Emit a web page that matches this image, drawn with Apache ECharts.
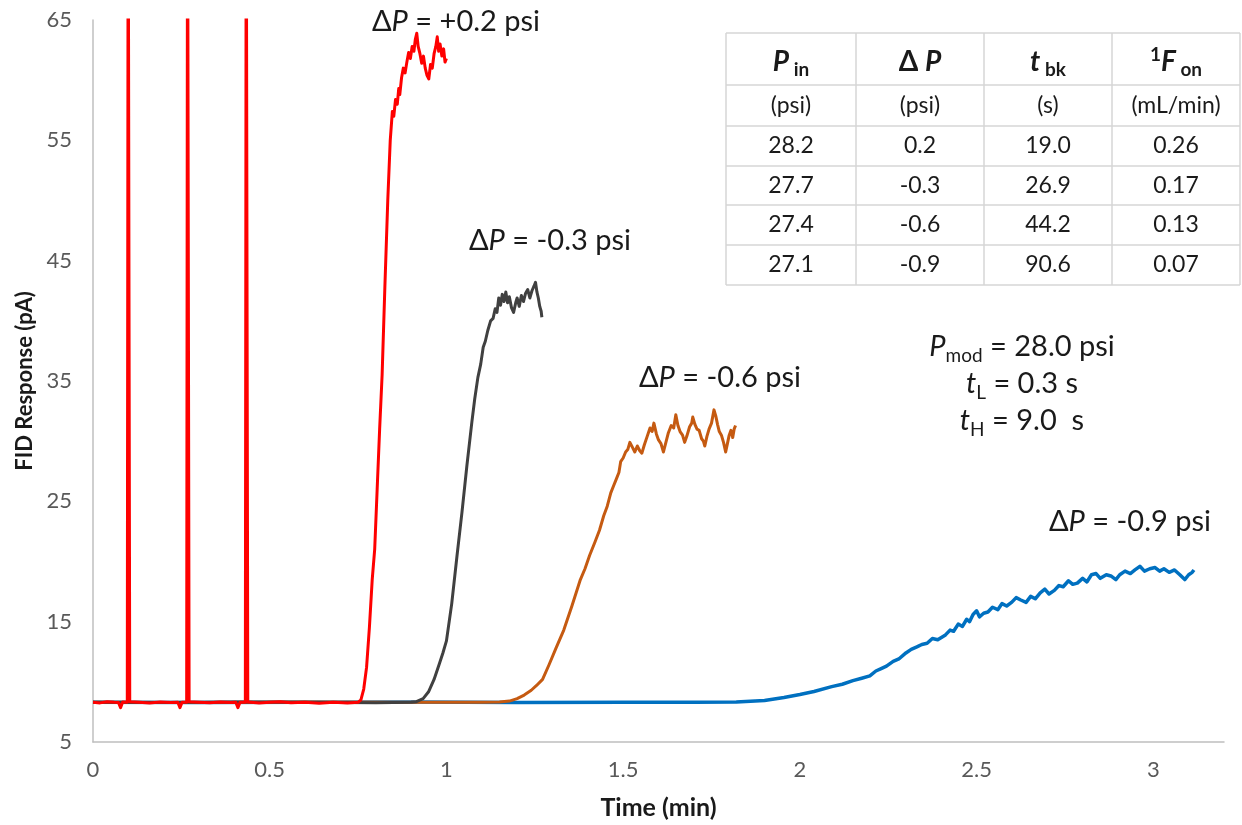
<!DOCTYPE html>
<html><head><meta charset="utf-8">
<script src="https://cdn.jsdelivr.net/npm/echarts@6/dist/echarts.min.js"></script>
<style>html,body{margin:0;padding:0;background:#fff}#c{width:1242px;height:825px}</style>
</head><body><div id="c"></div>
<script>
// ---------- data ----------
const xTicks = [0, 0.5, 1, 1.5, 2, 2.5, 3];
const yTicks = [5, 15, 25, 35, 45, 55, 65];

// ΔP = +0.2 psi (red) — baseline with three valve spikes, then breakthrough
const redData = [[0,8.3],[0.02,8.25],[0.04,8.35],[0.06,8.3],[0.072,8.28],[0.078,7.85],[0.084,8.32],[0.097,8.3],[0.0995,80],[0.1015,80],[0.104,8.35],
[0.13,8.3],[0.16,8.25],[0.19,8.32],[0.22,8.28],[0.24,8.3],[0.246,7.85],[0.252,8.3],[0.265,8.3],[0.2675,80],[0.2695,80],[0.272,8.35],
[0.3,8.3],[0.33,8.26],[0.36,8.33],[0.39,8.28],[0.404,8.3],[0.41,7.85],[0.416,8.3],[0.431,8.3],[0.4335,80],[0.4355,80],[0.438,8.32],
[0.47,8.25],[0.5,8.3],[0.53,8.35],[0.56,8.27],[0.6,8.3],[0.64,8.22],[0.68,8.3],[0.72,8.25],[0.75,8.3],[0.758,8.5],[0.766,9.4],[0.774,11.2],
[0.782,14.5],[0.79,18.5],[0.797,21],[0.804,26],[0.811,31],[0.818,35.5],[0.826,43],[0.834,50],[0.841,55],[0.847,57.4],[0.851,57.0],[0.856,58.4],
[0.861,58.0],[0.865,59.3],[0.868,58.8],[0.873,60.2],[0.878,61.0],[0.883,60.6],[0.888,61.5],[0.893,62.3],[0.898,61.8],[0.903,62.8],[0.908,62.4],[0.912,63.4],
[0.916,63.9],[0.92,62.8],[0.925,62.2],[0.93,61.4],[0.935,62.0],[0.94,61.0],[0.945,60.4],[0.95,60.1],[0.955,61.3],[0.96,61.0],[0.965,62.2],
[0.97,62.8],[0.974,63.6],[0.978,62.4],[0.982,63.0],[0.987,62.0],[0.992,62.6],[0.996,61.5],[1.0,61.8]];

// ΔP = -0.3 psi (dark grey)
const blackData = [[0,8.3],[0.2,8.28],[0.4,8.32],[0.6,8.3],[0.8,8.27],[0.9,8.3],[0.915,8.35],[0.934,8.6],[0.95,9.2],[0.965,10.2],[0.98,11.5],
[0.99,12.4],[1.0,13.4],[1.015,16.5],[1.03,20.5],[1.044,24.1],[1.058,28],[1.072,31.6],[1.08,33.5],[1.089,35.3],[1.097,36.4],[1.104,37.8],
[1.11,38.3],[1.117,39.2],[1.125,40.0],[1.132,40.2],[1.138,41.0],[1.143,40.7],[1.148,41.9],[1.153,41.3],[1.158,42.2],[1.163,41.6],[1.168,42.4],
[1.173,41.5],[1.178,42.0],[1.184,41.1],[1.19,40.7],[1.196,41.5],[1.2,41.9],[1.206,41.2],[1.212,42.1],[1.218,41.6],[1.224,42.3],[1.23,42.6],
[1.236,41.9],[1.242,42.5],[1.248,42.9],[1.252,43.2],[1.256,42.4],[1.26,41.9],[1.264,41.2],[1.268,40.8],[1.27,40.3]];

// ΔP = -0.6 psi (orange)
const orangeData = [[0,8.3],[0.3,8.28],[0.6,8.32],[0.9,8.3],[1.1,8.3],[1.15,8.32],[1.178,8.4],[1.2,8.6],[1.22,8.9],[1.24,9.3],[1.255,9.7],
[1.272,10.2],[1.29,11.4],[1.31,12.8],[1.332,14.3],[1.355,16.3],[1.379,18.5],[1.392,19.4],[1.405,20.5],[1.42,21.6],[1.433,22.6],[1.445,23.8],
[1.455,24.6],[1.465,25.7],[1.473,26.3],[1.48,26.8],[1.488,27.4],[1.493,28.3],[1.5,28.6],[1.507,29.1],[1.513,29.3],[1.519,29.9],[1.526,29.5],
[1.533,29.1],[1.54,29.6],[1.547,29.2],[1.553,29.0],[1.56,29.7],[1.568,30.4],[1.576,31.1],[1.582,30.8],[1.587,31.5],[1.594,30.6],[1.6,30.1],
[1.607,29.8],[1.614,29.1],[1.62,29.8],[1.628,30.7],[1.636,31.3],[1.643,31.1],[1.649,32.2],[1.655,31.3],[1.661,30.8],[1.668,30.5],[1.674,29.9],
[1.68,30.4],[1.688,31.2],[1.694,31.5],[1.697,32.0],[1.703,31.4],[1.709,31.0],[1.715,30.9],[1.722,30.2],[1.727,30.0],[1.731,29.6],[1.737,30.4],
[1.743,31.0],[1.75,31.5],[1.757,32.6],[1.762,32.1],[1.767,31.4],[1.772,30.8],[1.778,30.5],[1.784,29.9],[1.79,29.1],[1.795,29.8],[1.8,30.5],
[1.805,30.9],[1.81,30.3],[1.814,31.0],[1.818,31.3]];

// ΔP = -0.9 psi (blue)
const blueData = [[0,8.3],[0.3,8.28],[0.6,8.3],[0.9,8.32],[1.2,8.28],[1.5,8.3],[1.7,8.3],[1.82,8.32],[1.9,8.45],[1.955,8.7],[2.0,8.95],
[2.04,9.2],[2.09,9.6],[2.12,9.8],[2.15,10.1],[2.175,10.3],[2.198,10.5],[2.215,10.9],[2.23,11.1],[2.245,11.3],[2.264,11.7],[2.28,11.9],
[2.3,12.4],[2.315,12.7],[2.331,12.9],[2.345,13.1],[2.36,13.2],[2.375,13.6],[2.39,13.5],[2.412,13.9],[2.425,14.3],[2.435,14.2],[2.448,14.8],
[2.46,14.6],[2.472,15.2],[2.48,15.0],[2.49,15.6],[2.5,15.9],[2.508,15.4],[2.52,15.7],[2.532,15.8],[2.545,16.2],[2.56,16.0],[2.572,16.5],
[2.585,16.3],[2.599,16.6],[2.612,17.0],[2.625,16.8],[2.64,16.6],[2.653,17.1],[2.666,16.9],[2.68,17.4],[2.693,17.7],[2.705,17.3],[2.72,17.6],
[2.733,18.0],[2.745,17.9],[2.76,18.4],[2.772,18.1],[2.785,18.2],[2.8,18.6],[2.812,18.3],[2.825,18.9],[2.838,19.0],[2.85,18.6],[2.867,18.9],
[2.88,18.8],[2.894,18.5],[2.905,18.9],[2.92,19.2],[2.935,19.0],[2.948,19.3],[2.962,19.6],[2.975,19.2],[2.99,19.4],[3.005,19.5],[3.018,19.2],
[3.03,19.4],[3.045,19.1],[3.06,19.3],[3.075,18.9],[3.089,18.5],[3.1,18.9],[3.11,19.1],[3.115,19.3]];

const curveLabels = ['+0.2', '-0.3', '-0.6', '-0.9'];

// table
const tableUnits = ['(psi)', '(psi)', '(s)', '(mL/min)'];
const tablePin = ['28.2', '27.7', '27.4', '27.1'];
const tableDP = ['0.2', '-0.3', '-0.6', '-0.9'];
const tableTbk = ['19.0', '26.9', '44.2', '90.6'];
const tableFon = ['0.26', '0.17', '0.13', '0.07'];

// conditions
const condPmod = '28.0';
const condTL = '0.3';
const condTH = '9.0';

// ---------- layout / style ----------
const FONT = 'Lato, "Open Sans", sans-serif';
const TXT = '#1a1a1a';
const colX = [726, 856, 984, 1112, 1240];
const rowY = [33, 85, 126, 166, 205, 245, 285];

const chart = echarts.init(document.getElementById('c'), null, {renderer: 'canvas'});

const graphics = [];
colX.forEach(x => graphics.push({type: 'line', silent: true, shape: {x1: x, y1: rowY[0], x2: x, y2: rowY[rowY.length - 1]}, style: {stroke: '#D6D6D6', lineWidth: 1.5}}));
rowY.forEach(y => graphics.push({type: 'line', silent: true, shape: {x1: colX[0], y1: y, x2: colX[colX.length - 1], y2: y}, style: {stroke: '#D6D6D6', lineWidth: 1.5}}));
const colC = i => (colX[i] + colX[i + 1]) / 2;
const rowC = i => (rowY[i] + rowY[i + 1]) / 2;

const headRich = {
  bi: {fontFamily: FONT, fontSize: 28, fontWeight: 'bold', fontStyle: 'italic', fill: TXT, lineHeight: 34},
  b: {fontFamily: FONT, fontSize: 28, fontWeight: 'bold', fill: TXT, lineHeight: 34},
  sub: {fontFamily: FONT, fontSize: 19, fontWeight: 'bold', fill: TXT, lineHeight: 18, verticalAlign: 'bottom'},
  sup: {fontFamily: FONT, fontSize: 19, fontWeight: 'bold', fill: TXT, lineHeight: 18, verticalAlign: 'top'}
};
const headers = ['{bi|P}{sub| in}', '{b|Δ }{bi|P}', '{bi|t}{sub| bk}', '{sup|1}{bi|F}{sub| on}'];
headers.forEach((h, i) => graphics.push({type: 'text', silent: true, x: colC(i), y: rowC(0) + 3,
  style: {text: h, rich: headRich, align: 'center', verticalAlign: 'middle'}}));
tableUnits.forEach((u, i) => graphics.push({type: 'text', silent: true, x: colC(i), y: rowC(1),
  style: {text: u, fontFamily: FONT, fontSize: 23, fill: TXT, align: 'center', verticalAlign: 'middle'}}));
[tablePin, tableDP, tableTbk, tableFon].forEach((col, ci) => col.forEach((v, ri) => graphics.push({type: 'text', silent: true,
  x: colC(ci), y: rowC(ri + 2), style: {text: v, fontFamily: FONT, fontSize: 23, fill: TXT, align: 'center', verticalAlign: 'middle'}})));

const annRich = {
  n: {fontFamily: FONT, fontSize: 29, fill: TXT, lineHeight: 36},
  i: {fontFamily: FONT, fontSize: 29, fontStyle: 'italic', fill: TXT, lineHeight: 36},
  sub: {fontFamily: FONT, fontSize: 19, fill: TXT, lineHeight: 19, verticalAlign: 'bottom'}
};
const annPos = [[456, 22], [550, 241], [720, 378], [1130, 522]];
curveLabels.forEach((l, k) => graphics.push({type: 'text', silent: true, x: annPos[k][0], y: annPos[k][1],
  style: {text: '{n|Δ}{i|P}{n| = ' + l + ' psi}', rich: annRich, align: 'center', verticalAlign: 'middle'}}));
graphics.push({type: 'text', silent: true, x: 1022, y: 347, style: {text: '{i|P}{sub|mod}{n| = ' + condPmod + ' psi}', rich: annRich, align: 'center', verticalAlign: 'middle'}});
graphics.push({type: 'text', silent: true, x: 1022, y: 384, style: {text: '{i|t}{sub|L}{n| = ' + condTL + ' s}', rich: annRich, align: 'center', verticalAlign: 'middle'}});
graphics.push({type: 'text', silent: true, x: 1022, y: 421, style: {text: '{i|t}{sub|H}{n| = ' + condTH + '  s}', rich: annRich, align: 'center', verticalAlign: 'middle'}});

const lineSeries = (name, data, color, width) => ({
  name, type: 'line', data, showSymbol: false, symbol: 'none', clip: true, animation: false,
  lineStyle: {color, width, join: 'round'}, emphasis: {disabled: true}
});

chart.setOption({
  animation: false,
  backgroundColor: '#fff',
  grid: {left: 93, right: 18, top: 20, bottom: 83, containLabel: false},
  xAxis: {
    type: 'value', min: 0, max: 3.2, interval: 0.5,
    axisLine: {show: true, lineStyle: {color: '#BFBFBF', width: 1.5}},
    axisTick: {show: false}, splitLine: {show: false},
    axisLabel: {customValues: xTicks, color: '#595959', fontSize: 22, fontFamily: FONT, margin: 17},
    name: 'Time (min)', nameLocation: 'middle', nameGap: 53,
    nameTextStyle: {fontWeight: 'bold', fontSize: 25, fontFamily: FONT, color: TXT}
  },
  yAxis: {
    type: 'value', min: 5, max: 65, interval: 10,
    axisLine: {show: true, lineStyle: {color: '#BFBFBF', width: 1.5}},
    axisTick: {show: false}, splitLine: {show: false},
    axisLabel: {customValues: yTicks, color: '#595959', fontSize: 22, fontFamily: FONT, margin: 21},
    name: 'FID Response (pA)', nameLocation: 'middle', nameGap: 56,
    nameTextStyle: {fontWeight: 'bold', fontSize: 22, fontFamily: FONT, color: TXT}
  },
  series: [
    lineSeries('ΔP = -0.9 psi', blueData, '#0070C0', 3.5),
    lineSeries('ΔP = -0.6 psi', orangeData, '#C55A11', 3),
    lineSeries('ΔP = -0.3 psi', blackData, '#404040', 3),
    lineSeries('ΔP = +0.2 psi', redData, '#FF0000', 3)
  ],
  graphic: graphics
});
</script>
</body></html>
